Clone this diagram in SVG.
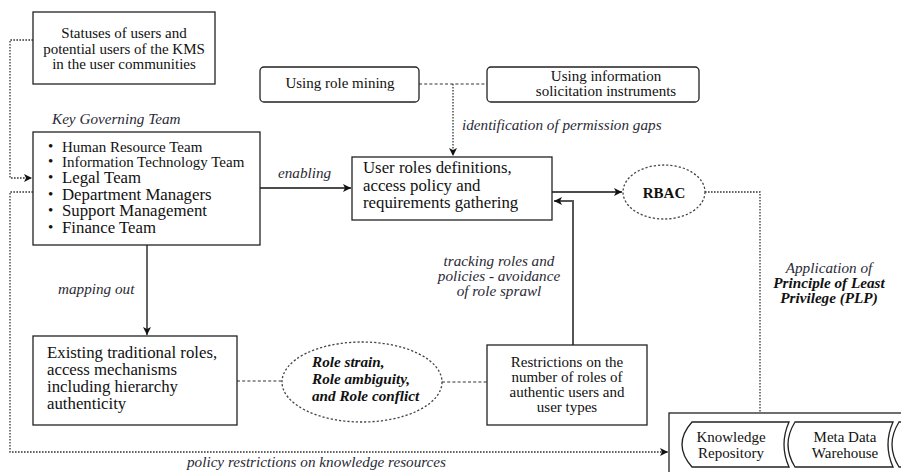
<svg xmlns="http://www.w3.org/2000/svg" width="901" height="472" viewBox="0 0 901 472">
<style>
  .box { fill: #fff; stroke: #222; stroke-width: 1.3; }
  text { font-family: "Times New Roman", "Liberation Serif", Tinos, "DejaVu Serif", serif; }
  .t { font-size: 15px; fill: #111; }
  .big { font-size: 16.8px; }
  .it { font-style: italic; font-size: 15.2px; fill: #2a2a36; }
  .bi { font-weight: bold; fill: #111; }
  .c { text-anchor: middle; }
  .solid { fill: none; stroke: #111; stroke-width: 1.3; }
  .dash { fill: none; stroke: #333; stroke-width: 1.2; stroke-dasharray: 3 2.2; }
  .dot { fill: none; stroke: #333; stroke-width: 1.3; stroke-dasharray: 1.6 1.4; }
  .delli { fill: #fff; stroke: #444; stroke-width: 1.3; stroke-dasharray: 2.2 2; }
</style>
<defs>
  <marker id="arr" viewBox="0 0 10 10" refX="10" refY="5" markerWidth="9" markerHeight="8" markerUnits="userSpaceOnUse" orient="auto">
    <path d="M0,0 L10,5 L0,10 L2.5,5 Z" fill="#111"/>
  </marker>
</defs>
<rect width="901" height="472" fill="#fff"/>

<g id="connectors">
  <path class="solid" d="M260,188 H351" marker-end="url(#arr)"/>
  <path class="dash" d="M419,84 H487"/>
  <path class="dot" d="M453,84 V156" marker-end="url(#arr)"/>
  <path class="solid" d="M552,192 H622" marker-end="url(#arr)"/>
  <path fill="none" stroke="#555" stroke-width="2" d="M573,345 V201 H554" marker-end="url(#arr)"/>
  <path class="dot" d="M705,192 H760 V413"/>
  <path class="solid" d="M147,245 V335" marker-end="url(#arr)"/>
  <path class="dash" d="M237,381 H282"/>
  <path class="dash" d="M442,382 H487"/>
  <path class="dot" d="M33,40 H10 V178 H32" marker-end="url(#arr)"/>
  <path class="dot" d="M33,192 H10 V452 H668" marker-end="url(#arr)"/>
</g>

<g id="lbl-enabling"><text class="it" x="278" y="178">enabling</text></g>
<g id="lbl-identification"><text class="it" x="462" y="130">identification of permission gaps</text></g>
<g id="lbl-mapping"><text class="it" x="58" y="294">mapping out</text></g>
<g id="lbl-tracking">
  <text class="it c" x="499" y="266">tracking roles and</text>
  <text class="it c" x="499" y="281">policies - avoidance</text>
  <text class="it c" x="499" y="296">of role sprawl</text>
</g>
<g id="lbl-plp">
  <text class="it c" x="829" y="273">Application of</text>
  <text class="it c bi" x="829" y="288">Principle of Least</text>
  <text class="it c bi" x="829" y="303">Privilege (PLP)</text>
</g>
<g id="lbl-policy"><text class="it" x="187" y="467">policy restrictions on knowledge resources</text></g>

<g id="statuses">
  <rect class="box" x="33" y="12" width="182" height="72"/>
  <text class="t c" x="124" y="38">Statuses of users and</text>
  <text class="t c" x="124" y="53.5">potential users of the KMS</text>
  <text class="t c" x="124" y="69">in the user communities</text>
</g>

<g id="role-mining">
  <rect class="box" x="260" y="67" width="159" height="35" rx="4"/>
  <text class="t c" x="340" y="88">Using role mining</text>
</g>

<g id="info-solicitation">
  <rect class="box" x="487" y="67" width="212" height="35" rx="4"/>
  <text class="t c" x="606" y="81">Using information</text>
  <text class="t c" x="606" y="96">solicitation instruments</text>
</g>

<g id="key-governing-team">
  <text class="it" x="52" y="124">Key Governing Team</text>
  <rect class="box" x="33" y="132" width="227" height="113"/>
  <g class="t">
    <text x="48" y="151">•</text><text x="62" y="152">Human Resource Team</text>
    <text x="48" y="166">•</text><text x="62" y="167">Information Technology Team</text>
    <text x="48" y="182">•</text><text class="big" x="62" y="183">Legal Team</text>
    <text x="48" y="199">•</text><text class="big" x="62" y="200">Department Managers</text>
    <text x="48" y="215">•</text><text class="big" x="62" y="216">Support Management</text>
    <text x="48" y="232">•</text><text class="big" x="62" y="233">Finance Team</text>
  </g>
</g>

<g id="user-roles">
  <rect class="box" x="352" y="157" width="200" height="63"/>
  <text class="t big" x="363" y="173">User roles definitions,</text>
  <text class="t big" x="363" y="191">access policy and</text>
  <text class="t big" x="363" y="208">requirements gathering</text>
</g>

<g id="rbac">
  <ellipse class="delli" cx="664" cy="192" rx="41" ry="27"/>
  <text class="t c bi" x="664" y="198">RBAC</text>
</g>

<g id="existing-roles">
  <rect class="box" x="33" y="336" width="204" height="89"/>
  <text class="t big" x="47" y="358">Existing traditional roles,</text>
  <text class="t big" x="47" y="375">access mechanisms</text>
  <text class="t big" x="47" y="392">including hierarchy</text>
  <text class="t big" x="47" y="409">authenticity</text>
</g>

<g id="role-strain">
  <ellipse class="delli" cx="362" cy="382" rx="80" ry="40"/>
  <text class="it bi" x="312" y="367">Role strain,</text>
  <text class="it bi" x="312" y="384">Role ambiguity,</text>
  <text class="it bi" x="312" y="401">and Role conflict</text>
</g>

<g id="restrictions">
  <rect class="box" x="487" y="345" width="160" height="80"/>
  <text class="t c" x="567" y="367">Restrictions on the</text>
  <text class="t c" x="567" y="382">number of roles of</text>
  <text class="t c" x="567" y="397">authentic users and</text>
  <text class="t c" x="567" y="412">user types</text>
</g>

<g id="knowledge-resources">
  <rect class="box" x="669" y="413" width="250" height="80"/>
  <path class="box" d="M692,422 H789 Q779,444.5 789,467 H692 Q672,444.5 692,422 Z"/>
  <text class="t c" x="731" y="442">Knowledge</text>
  <text class="t c" x="731" y="458">Repository</text>
  <path class="box" d="M795,422 H893 Q883,444.5 893,467 H795 Q781,444.5 795,422 Z"/>
  <text class="t c" x="845" y="442">Meta Data</text>
  <text class="t c" x="845" y="458">Warehouse</text>
  <path class="box" d="M899,422 H930 V467 H899 Q885,444.5 899,422 Z"/>
</g>
</svg>
